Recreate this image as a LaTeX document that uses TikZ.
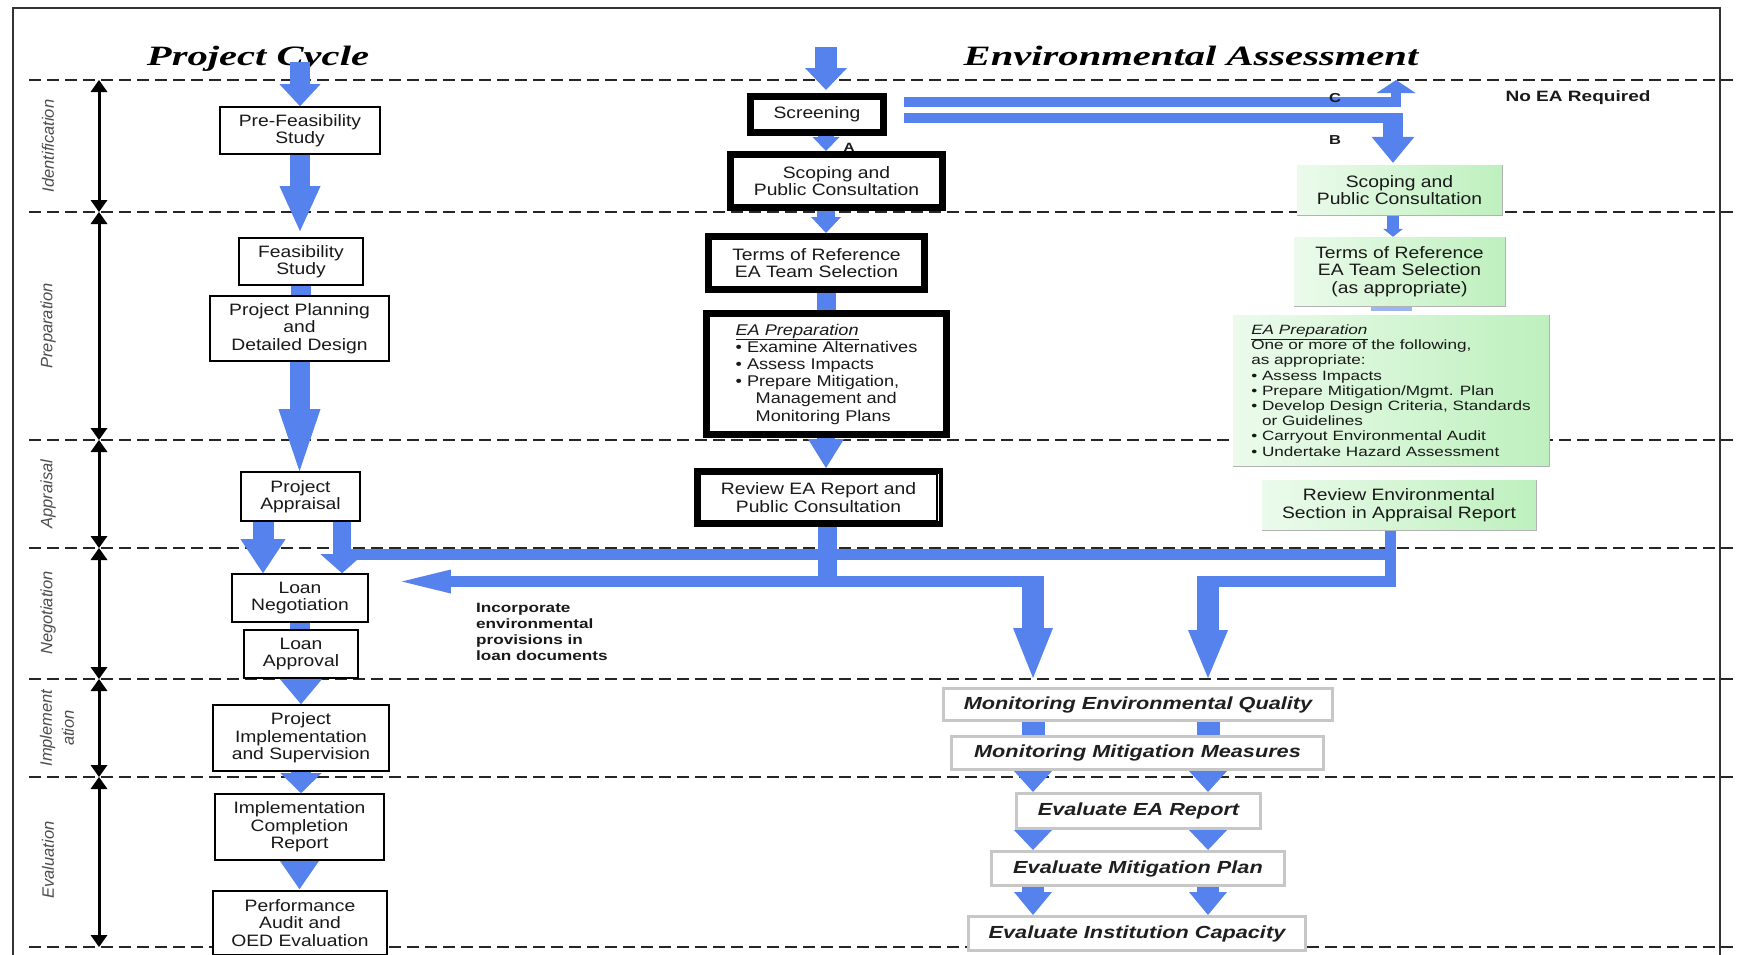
\documentclass[tikz,border=0pt]{standalone}
\usepackage{fontspec}
\setmainfont{Liberation Sans}
\newfontfamily\boxfont[FakeStretch=1.17]{Liberation Sans}
\newfontfamily\ttlfont[FakeStretch=1.45]{Liberation Serif}
\newfontfamily\monfont[FakeStretch=1.24]{Liberation Sans}
\newfontfamily\notefont[FakeStretch=1.27]{Liberation Sans}
\usetikzlibrary{arrows.meta,calc}
\pgfdeclarelayer{lower}
\pgfdeclarelayer{middle}
\pgfsetlayers{lower,middle,main}
\definecolor{bblue}{RGB}{86,130,238}
\definecolor{lgreen}{RGB}{190,240,190}
\definecolor{txt}{RGB}{25,25,25}
\begin{document}
\begin{tikzpicture}[x=1pt,y=-1pt,
  lbox/.style={draw=black, line width=1.6pt, fill=white, inner sep=0pt, align=center, text=txt, font=\boxfont\fontsize{16.5}{17.5}\selectfont},
  tbox/.style={lbox, line width=7pt},
  gbox/.style={inner sep=0pt, align=center, text=txt, left color=lgreen!30, right color=lgreen, font=\boxfont\fontsize{16.5}{17.5}\selectfont},
  mbox/.style={draw=black!22, line width=3pt, fill=white, inner sep=0pt, align=center, text=black!88, font=\monfont\bfseries\itshape\fontsize{17.5}{20}\selectfont},
  phase/.style={rotate=90, align=center, text=black!70, font=\itshape\fontsize{16.5}{22}\selectfont},
  sep/.style={black!85, line width=1.5pt, dash pattern=on 12pt off 6pt},
  tl/.style={black, line width=3pt, >={Triangle[length=12pt,width=17pt,line width=0pt]}, <->},
  blk/.style n args={3}{draw=bblue, line width=#1, line cap=butt, >={Triangle[length=#2,width=#3,line width=0pt]}, ->},
  shaft/.style={draw=bblue, line width=#1, line cap=butt},
  band/.style={draw=bblue, line width=11pt, line join=miter, line cap=butt},
  lab/.style={font=\notefont\bfseries\fontsize{13}{14}\selectfont, text=txt, inner sep=0pt},
  ttl/.style={font=\ttlfont\bfseries\itshape\fontsize{28}{30}\selectfont, anchor=base, inner sep=0pt}
]
\useasboundingbox (0,0) rectangle (1737,954);
\clip (0,0) rectangle (1737,954);

% ---------- left column ----------
\node[lbox, minimum width=160pt, minimum height=47pt] (pf) at (300,130.5) {Pre-Feasibility\\Study};
\node[lbox, minimum width=124pt, minimum height=47pt] (fs) at (301,261.5) {Feasibility\\Study};
\node[lbox, minimum width=179pt, minimum height=65pt] (pp) at (299.5,328.5) {Project Planning\\and\\Detailed Design};
\node[lbox, minimum width=119pt, minimum height=49pt] (pa) at (300.5,496.5) {Project\\Appraisal};
\node[lbox, minimum width=136pt, minimum height=48pt] (ln) at (300,598) {Loan\\Negotiation};
\node[lbox, minimum width=114pt, minimum height=48pt] (la) at (301,654) {Loan\\Approval};
\node[lbox, minimum width=176pt, minimum height=66pt] (pi) at (301,738) {Project\\Implementation\\and Supervision};
\node[lbox, minimum width=169pt, minimum height=66pt] (icr) at (299.5,827) {Implementation\\Completion\\Report};
\node[lbox, minimum width=174pt, minimum height=64pt] (perf) at (300,923) {Performance\\Audit and\\OED Evaluation};

% ---------- middle column ----------
\node[tbox, minimum width=133pt, minimum height=36pt] (scr) at (817,114.5) {Screening};
\node[tbox, minimum width=212pt, minimum height=53pt] (sco) at (836.5,181) {Scoping and\\Public Consultation};
\node[tbox, minimum width=216pt, minimum height=53pt] (tor) at (816.5,263) {Terms of Reference\\EA Team Selection};
\node[tbox, minimum width=240pt, minimum height=121pt, align=left, font=\boxfont\fontsize{15.5}{17.2}\selectfont] (eap) at (826.5,374)
  {\underline{\itshape EA Preparation}\\\textbullet\ Examine Alternatives\\\textbullet\ Assess Impacts\\\textbullet\ Prepare Mitigation,\\\hspace*{20pt}Management and\\\hspace*{20pt}Monitoring Plans};
\node[tbox, minimum width=242pt, minimum height=52pt] (rev) at (818.5,497.5) {Review EA Report and\\Public Consultation};
\draw[white, line width=1pt] ($(rev.north east)+(-4.5,6)$) -- ($(rev.south east)+(-4.5,-6)$);

% ---------- right column (green) ----------
\node[gbox, minimum width=205pt, minimum height=50pt] (gsco) at (1399.5,190) {Scoping and\\Public Consultation};
\node[gbox, minimum width=211pt, minimum height=69pt] (gtor) at (1399.5,271.5) {Terms of Reference\\EA Team Selection\\(as appropriate)};
\node[gbox, minimum width=316pt, minimum height=151pt, align=left, font=\notefont\fontsize{13.5}{15.2}\selectfont] (gea) at (1391,390.5)
  {\underline{\itshape EA Preparation}\\One or more of the following,\\as appropriate:\\\textbullet\ Assess Impacts\\\textbullet\ Prepare Mitigation/Mgmt. Plan\\\textbullet\ Develop Design Criteria, Standards\\\phantom{\textbullet\ }or Guidelines\\\textbullet\ Carryout Environmental Audit\\\textbullet\ Undertake Hazard Assessment};
\node[gbox, minimum width=274pt, minimum height=50pt] (grev) at (1399,505) {Review Environmental\\Section in Appraisal Report};
\foreach \n in {gsco,gtor,gea,grev}
  \draw[black!30, line width=1.2pt] (\n.north east) -- (\n.south east) -- (\n.south west);

% ---------- monitoring / evaluation ----------
\node[mbox, minimum width=389pt, minimum height=32pt] (meq) at (1138,704.5) {Monitoring Environmental Quality};
\node[mbox, minimum width=372pt, minimum height=33pt] (mmm) at (1137.5,753) {Monitoring Mitigation Measures};
\node[mbox, minimum width=244pt, minimum height=35pt] (eea) at (1138.5,811) {Evaluate EA Report};
\node[mbox, minimum width=293pt, minimum height=34pt] (emp) at (1138,868.5) {Evaluate Mitigation Plan};
\node[mbox, minimum width=337pt, minimum height=34pt] (eic) at (1137,933.5) {Evaluate Institution Capacity};

% ---------- labels ----------
\node[lab, font=\notefont\bfseries\fontsize{15}{16}\selectfont] (noea) at (1578,98) {No EA Required};
\node[lab] (lC) at (1335,98) {C};
\node[lab] (lB) at (1335,140) {B};
\node[lab, font=\notefont\bfseries\fontsize{12}{13}\selectfont] (lA) at (849,147) {A};
\node[lab, font=\notefont\bfseries\fontsize{13.5}{16}\selectfont, align=left, anchor=north west] (inc) at (476,603)
  {Incorporate\\environmental\\provisions in\\loan documents};

% ---------- helper coordinates ----------
\coordinate (xAL) at (263,0);
\coordinate (xAR) at (342,0);
\coordinate (xM) at (826,0);
\coordinate (xRv) at (827,0);
\coordinate (xa) at (1033,0);
\coordinate (xb) at (1208,0);
\coordinate (xr) at (1390,0);
\coordinate (xg) at (1393,0);
\coordinate (xc) at (1396,0);
\coordinate (yU) at (0,554);
\coordinate (yD) at (0,581.5);
\coordinate (yC) at (0,102);
\coordinate (yB) at (0,118);
\coordinate (yTop) at (0,80);
\coordinate (L0) at (300,62);
\coordinate (M0) at (826,47);

% ---------- background: frame, dashed lines, timeline, titles ----------
\begin{pgfonlayer}{lower}
\draw[black!80, line width=1.5pt] (13,8) rectangle (1720,990);
\foreach \y in {80,212,440,548,679,777,947}
  \draw[sep] (29,\y) -- (1737,\y);
\foreach \a/\b in {80/212,212/440,440/548,548/679,679/777,777/947}
  \draw[tl] (99,\a) -- (99,\b);
\node[phase] (ph1) at (48,146) {Identification};
\node[phase] (ph2) at (48,326) {Preparation};
\node[phase] (ph3) at (48,494) {Appraisal};
\node[phase] (ph4) at (48,613) {Negotiation};
\node[phase] (ph5) at (57,728) {Implement\\ation};
\node[phase] (ph6) at (48,860) {Evaluation};
\node[ttl] (ttl1) at (258,65) {Project Cycle};
\node[ttl] (ttl2) at (1191,65) {Environmental Assessment};
\end{pgfonlayer}

% ---------- blue arrows ----------
\begin{pgfonlayer}{middle}
% left column
\draw[blk={20pt}{22pt}{41pt}] (L0) -- (L0 |- pf.north);
\draw[blk={20pt}{45pt}{41pt}, shorten >=6pt] (pf.south) -- (pf.south |- fs.north);
\draw[shaft=20pt] (fs.south) -- (fs.south |- pp.north);
\draw[blk={20pt}{62pt}{42pt}] (pp.south) -- (pp.south |- pa.north);
\draw[blk={21pt}{34pt}{45pt}] (xAL |- pa.south) -- (xAL |- ln.north);
\draw[blk={18pt}{19pt}{43pt}] (xAR |- pa.south) -- (xAR |- ln.north);
\draw[shaft=20pt] (ln.south) -- (ln.south |- la.north);
\draw[blk={20pt}{25pt}{42pt}] (la.south) -- (la.south |- pi.north);
\draw[blk={20pt}{20pt}{41pt}] (pi.south) -- (pi.south |- icr.north);
\draw[blk={20pt}{29pt}{40pt}, shorten >=1pt] (icr.south) -- (icr.south |- perf.north);
% middle column
\draw[blk={22pt}{22pt}{42pt}, shorten >=3pt] (M0) -- (M0 |- scr.north);
\draw[blk={16pt}{14pt}{27pt}] (xM |- scr.south) -- (xM |- sco.north);
\draw[blk={18pt}{16pt}{30pt}] (xM |- sco.south) -- (xM |- tor.north);
\draw[shaft=19pt] (xM |- tor.south) -- (xM |- eap.north);
\draw[blk={18pt}{29pt}{36pt}] (xM |- eap.south) -- (xM |- rev.north);
\draw[shaft=19pt] (xRv |- rev.south) -- ($(xRv |- yD)+(0,5.5)$);
% screening to C / B
\draw[draw=bblue, line width=10pt, line join=miter, >={Triangle[length=13pt,width=39pt,line width=0pt]}, ->]
  ($(scr.east |- yC)+(17,0)$) -- (xc |- yC) -- (xc |- yTop);
\draw[band, line width=10pt] ($(scr.east |- yB)+(17,0)$) -- ($(xg |- yB)+(10,0)$);
\draw[blk={20pt}{26pt}{43pt}, shorten >=2pt] ($(xg |- yB)+(0,-5)$) -- (xg |- gsco.north);
% right column
\draw[blk={12pt}{8pt}{20pt}] (xg |- gsco.south) -- (xg |- gtor.north);
\draw[draw=bblue!60, line width=41pt, shorten >=4pt] (gtor.south -| gea.north) -- (gea.north);
% bands
\draw[band] (xr |- grev.south) -- (xr |- yU) -- (xAR |- yU);
\draw[band] (xr |- yU) -- (xr |- yD) -- (xb |- yD);
\draw[blk={22pt}{48pt}{40pt}, shorten >=9pt] ($(xb |- yD)+(0,-5.5)$) -- (xb |- meq.north);
\draw[band, >={Triangle[length=49pt,width=24pt,line width=0pt]}, ->] ($(xa |- yD)+(11,0)$) -- ($(ln.east |- yD)+(33,0)$);
\draw[blk={22pt}{50pt}{40pt}, shorten >=9pt] ($(xa |- yD)+(0,-5.5)$) -- (xa |- meq.north);
% monitoring / evaluation connectors
\foreach \c in {xa,xb}{
  \draw[shaft=23pt] (\c |- meq.south) -- (\c |- mmm.north);
  \draw[blk={22pt}{21pt}{38pt}] (\c |- mmm.south) -- (\c |- eea.north);
  \draw[blk={22pt}{20pt}{38pt}] (\c |- eea.south) -- (\c |- emp.north);
  \draw[blk={22pt}{23pt}{38pt}] (\c |- emp.south) -- (\c |- eic.north);
}
\end{pgfonlayer}
\end{tikzpicture}
\end{document}
